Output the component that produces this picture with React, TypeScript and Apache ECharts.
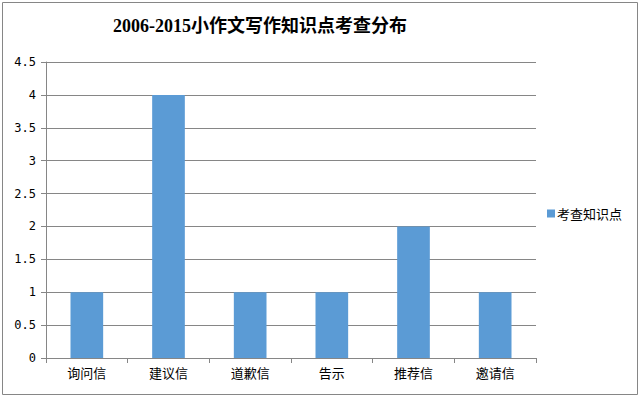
import React, { useEffect, useRef } from "react";
import * as echarts from "echarts";

const titleText = "2006-2015小作文写作知识点考查分布";
const categories = ["询问信", "建议信", "道歉信", "告示", "推荐信", "邀请信"];
const seriesName = "考查知识点";
const values = [1, 4, 1, 1, 2, 1];

const labelFont = "'Noto Sans CJK SC', 'DejaVu Sans', sans-serif";

export default function App() {
  const ref = useRef<HTMLDivElement>(null);
  useEffect(() => {
    document.body.style.margin = "0";
    const chart = echarts.init(ref.current!, null, { renderer: "svg" });
    chart.setOption({
      animation: false,
      backgroundColor: "#ffffff",
      graphic: [
        {
          type: "rect",
          shape: { x: 2.5, y: 2.5, width: 635, height: 392 },
          style: { fill: "none", stroke: "#868686", lineWidth: 1 },
          silent: true,
        },
        {
          type: "text",
          x: 260,
          y: 26,
          style: {
            text: titleText,
            fontSize: 18,
            fontWeight: "bold",
            fontFamily: "'Liberation Serif', 'Noto Sans CJK SC', serif",
            fill: "#000",
            textAlign: "center",
            textVerticalAlign: "middle",
          },
        },
      ],
      legend: {
        data: [seriesName],
        left: 542,
        top: 202,
        icon: "rect",
        itemWidth: 8,
        itemHeight: 8,
        itemGap: 4,
        textStyle: { fontSize: 13, fontFamily: labelFont, color: "#000", padding: [0, 0, 0, -3] },
      },
      grid: { left: 46, right: 104, top: 62, bottom: 38, containLabel: false },
      xAxis: {
        type: "category",
        data: categories,
        axisLine: { lineStyle: { color: "#868686" } },
        axisTick: { show: true, alignWithLabel: false, length: 5, lineStyle: { color: "#868686" } },
        axisLabel: { fontSize: 13, fontFamily: labelFont, color: "#000", margin: 8 },
      },
      yAxis: {
        type: "value",
        min: 0,
        max: 4.5,
        interval: 0.5,
        axisLine: { show: true, lineStyle: { color: "#868686" } },
        axisTick: { show: true, length: 5, lineStyle: { color: "#868686" } },
        splitLine: { lineStyle: { color: "#868686" } },
        axisLabel: { fontSize: 12, fontFamily: "'DejaVu Sans Mono', monospace", color: "#000", margin: 10 },
      },
      series: [
        {
          name: seriesName,
          type: "bar",
          data: values,
          barWidth: "40%",
          itemStyle: { color: "#5B9BD5" },
        },
      ],
    });
    return () => chart.dispose();
  }, []);
  return <div ref={ref} style={{ width: 640, height: 396 }} />;
}
